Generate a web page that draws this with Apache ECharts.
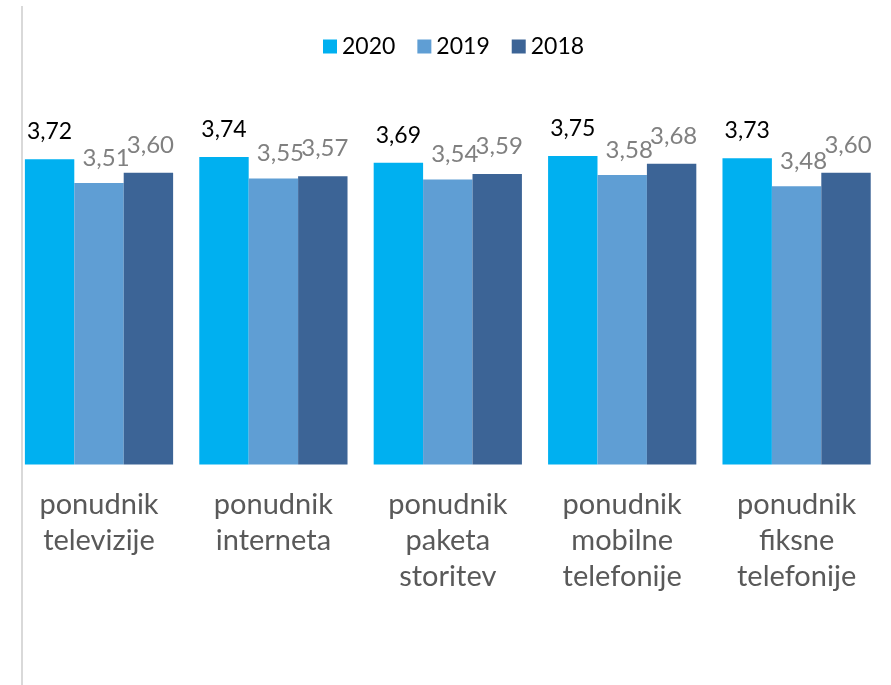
<!DOCTYPE html>
<html>
<head>
<meta charset="utf-8">
<script src="https://cdn.jsdelivr.net/npm/echarts@6/dist/echarts.min.js"></script>
<style>
html,body{margin:0;padding:0;background:#fff;}
#c{width:891px;height:685px;}
</style>
</head>
<body>
<div id="c"></div>
<script>
var categories = ['ponudnik\ntelevizije', 'ponudnik\ninterneta', 'ponudnik\npaketa\nstoritev', 'ponudnik\nmobilne\ntelefonije', 'ponudnik\nfiksne\ntelefonije'];
var seriesNames = ['2020', '2019', '2018'];
var values2020 = [3.72, 3.74, 3.69, 3.75, 3.73];
var values2019 = [3.51, 3.55, 3.54, 3.58, 3.48];
var values2018 = [3.60, 3.57, 3.59, 3.68, 3.60];

var FONT = 'Lato';
function fmt(p) { return p.value.toFixed(2).replace('.', ','); }

var chart = echarts.init(document.getElementById('c'), null, {renderer: 'canvas'});
chart.setOption({
  backgroundColor: '#ffffff',
  animation: false,
  textStyle: {fontFamily: FONT},
  legend: {
    top: 30,
    left: 318,
    icon: 'rect',
    itemWidth: 14,
    itemHeight: 14,
    itemGap: 22,
    textStyle: {fontSize: 23, color: '#000', fontFamily: FONT},
    data: seriesNames
  },
  grid: {left: 11.8, right: 7.2, top: 127.9, bottom: 220.5, containLabel: false},
  xAxis: {
    type: 'category',
    data: categories,
    axisLine: {show: false},
    axisTick: {show: false},
    axisLabel: {interval: 0, fontSize: 29, lineHeight: 36, color: '#595959', margin: 22, fontFamily: FONT}
  },
  yAxis: {
    type: 'value', min: 1, max: 4, show: false,
    splitLine: {show: false}
  },
  graphic: [{
    type: 'line',
    shape: {x1: 22, y1: 6, x2: 22, y2: 685},
    style: {stroke: '#d9d9d9', lineWidth: 2},
    silent: true
  }],
  series: [
    {name: '2020', type: 'bar', data: values2020, barGap: '0%', barCategoryGap: '15%',
     itemStyle: {color: '#00b0f0'},
     label: {show: true, position: 'top', distance: 16, formatter: fmt, fontSize: 23, color: '#000', fontFamily: FONT}},
    {name: '2019', type: 'bar', data: values2019, barGap: '0%', barCategoryGap: '15%',
     itemStyle: {color: '#5f9ed4'},
     label: {show: true, position: 'top', distance: 13, offset: [7, 0], formatter: fmt, fontSize: 24, color: '#808080', fontFamily: FONT}},
    {name: '2018', type: 'bar', data: values2018, barGap: '0%', barCategoryGap: '15%',
     itemStyle: {color: '#3c6496'},
     label: {show: true, position: 'top', distance: 16, offset: [2, 0], formatter: fmt, fontSize: 24, color: '#808080', fontFamily: FONT}}
  ]
});
</script>
</body>
</html>
